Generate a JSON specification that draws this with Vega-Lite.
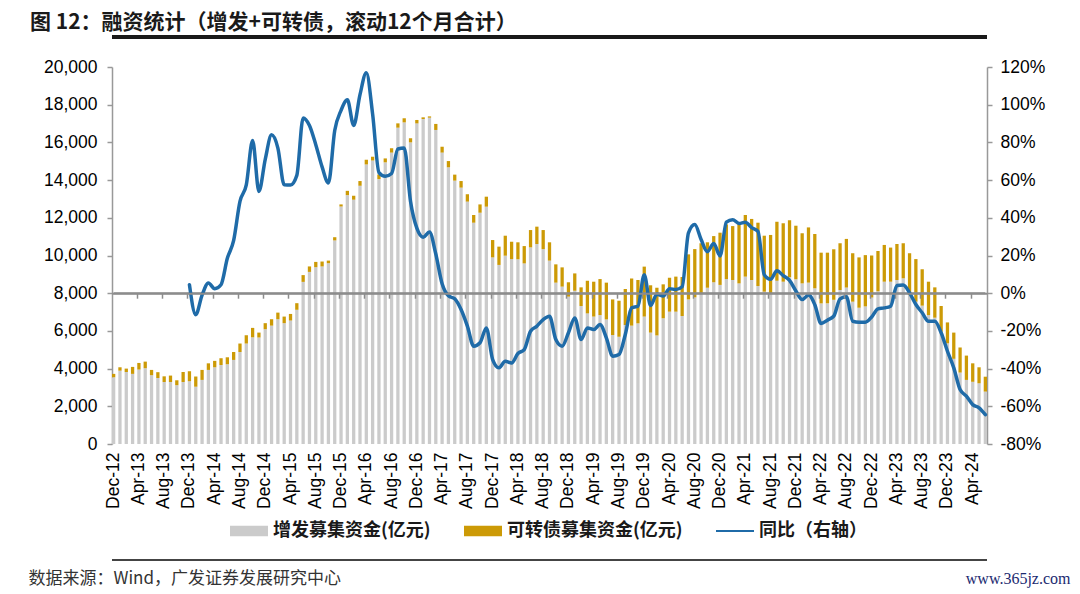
{
  "$schema": "https://vega.github.io/schema/vega-lite/v6.json",
  "width": 875,
  "height": 377,
  "autosize": "none",
  "padding": {"left": 112, "top": 67, "right": 93, "bottom": 150},
  "background": "white",
  "title": {
    "text": "图 12：融资统计（增发+可转债，滚动12个月合计）",
    "anchor": "start", "frame": "group", "dx": -82, "offset": 3,
    "font": "Noto Sans CJK SC", "fontSize": 21, "fontWeight": "bold", "color": "#1a1a1a"
  },
  "config": {
    "view": {"stroke": null},
    "axis": {"labelFont": "Liberation Sans", "labelFontSize": 17.5, "labelColor": "#000000", "grid": false}
  },
  "data": {
    "values": [
      {"m": "Dec-12", "g": 3540, "t": 3720, "y": null},
      {"m": "Jan-13", "g": 3890, "t": 4070, "y": null},
      {"m": "Feb-13", "g": 3820, "t": 4000, "y": null},
      {"m": "Mar-13", "g": 3720, "t": 4090, "y": null},
      {"m": "Apr-13", "g": 3950, "t": 4300, "y": null},
      {"m": "May-13", "g": 4020, "t": 4370, "y": null},
      {"m": "Jun-13", "g": 3650, "t": 3930, "y": null},
      {"m": "Jul-13", "g": 3500, "t": 3810, "y": null},
      {"m": "Aug-13", "g": 3290, "t": 3590, "y": null},
      {"m": "Sep-13", "g": 3290, "t": 3630, "y": null},
      {"m": "Oct-13", "g": 3120, "t": 3380, "y": null},
      {"m": "Nov-13", "g": 3290, "t": 3820, "y": null},
      {"m": "Dec-13", "g": 3330, "t": 3860, "y": 4.5},
      {"m": "Jan-14", "g": 3040, "t": 3580, "y": -11.4},
      {"m": "Feb-14", "g": 3400, "t": 3930, "y": -1},
      {"m": "Mar-14", "g": 3930, "t": 4280, "y": 5.4},
      {"m": "Apr-14", "g": 4070, "t": 4410, "y": 2.4},
      {"m": "May-14", "g": 4190, "t": 4550, "y": 4.5},
      {"m": "Jun-14", "g": 4230, "t": 4600, "y": 18.5},
      {"m": "Jul-14", "g": 4460, "t": 4880, "y": 28},
      {"m": "Aug-14", "g": 4880, "t": 5330, "y": 48.7},
      {"m": "Sep-14", "g": 5330, "t": 5770, "y": 57.5},
      {"m": "Oct-14", "g": 5660, "t": 6160, "y": 81},
      {"m": "Nov-14", "g": 5650, "t": 5910, "y": 54},
      {"m": "Dec-14", "g": 6090, "t": 6410, "y": 71},
      {"m": "Jan-15", "g": 6280, "t": 6620, "y": 84},
      {"m": "Feb-15", "g": 6620, "t": 6970, "y": 77},
      {"m": "Mar-15", "g": 6410, "t": 6760, "y": 57.5},
      {"m": "Apr-15", "g": 6550, "t": 6900, "y": 57.4},
      {"m": "May-15", "g": 7120, "t": 7470, "y": 62.5},
      {"m": "Jun-15", "g": 8600, "t": 8960, "y": 93},
      {"m": "Jul-15", "g": 9130, "t": 9420, "y": 89},
      {"m": "Aug-15", "g": 9380, "t": 9660, "y": 78.8},
      {"m": "Sep-15", "g": 9420, "t": 9680, "y": 67},
      {"m": "Oct-15", "g": 9590, "t": 9730, "y": 58.5},
      {"m": "Nov-15", "g": 10800, "t": 10970, "y": 86.3},
      {"m": "Dec-15", "g": 12600, "t": 12710, "y": 97},
      {"m": "Jan-16", "g": 13200, "t": 13430, "y": 102.6},
      {"m": "Feb-16", "g": 12960, "t": 13170, "y": 89},
      {"m": "Mar-16", "g": 13700, "t": 13950, "y": 105.3},
      {"m": "Apr-16", "g": 14830, "t": 15080, "y": 117},
      {"m": "May-16", "g": 15040, "t": 15240, "y": 95},
      {"m": "Jun-16", "g": 14050, "t": 14300, "y": 64},
      {"m": "Jul-16", "g": 14940, "t": 15150, "y": 62},
      {"m": "Aug-16", "g": 15460, "t": 15690, "y": 63.5},
      {"m": "Sep-16", "g": 16780, "t": 17010, "y": 76.5},
      {"m": "Oct-16", "g": 17060, "t": 17280, "y": 77},
      {"m": "Nov-16", "g": 16000, "t": 16220, "y": 48.7},
      {"m": "Dec-16", "g": 17010, "t": 17190, "y": 34.5},
      {"m": "Jan-17", "g": 17240, "t": 17330, "y": 29.7},
      {"m": "Feb-17", "g": 17310, "t": 17380, "y": 32.5},
      {"m": "Mar-17", "g": 16660, "t": 16980, "y": 20.8},
      {"m": "Apr-17", "g": 15460, "t": 15770, "y": 5},
      {"m": "May-17", "g": 14680, "t": 15010, "y": -1.4},
      {"m": "Jun-17", "g": 13970, "t": 14290, "y": -3},
      {"m": "Jul-17", "g": 13600, "t": 13950, "y": -8.7},
      {"m": "Aug-17", "g": 12860, "t": 13250, "y": -17.5},
      {"m": "Sep-17", "g": 11740, "t": 12150, "y": -28.1},
      {"m": "Oct-17", "g": 12270, "t": 12710, "y": -26.3},
      {"m": "Nov-17", "g": 12590, "t": 13120, "y": -18.4},
      {"m": "Dec-17", "g": 9900, "t": 10820, "y": -35.2},
      {"m": "Jan-18", "g": 9500, "t": 10470, "y": -39.6},
      {"m": "Feb-18", "g": 9990, "t": 11050, "y": -36.1},
      {"m": "Mar-18", "g": 9810, "t": 10730, "y": -37},
      {"m": "Apr-18", "g": 9800, "t": 10700, "y": -32},
      {"m": "May-18", "g": 9580, "t": 10500, "y": -29.9},
      {"m": "Jun-18", "g": 10430, "t": 11350, "y": -20.2},
      {"m": "Jul-18", "g": 10610, "t": 11530, "y": -17.5},
      {"m": "Aug-18", "g": 10340, "t": 11350, "y": -14},
      {"m": "Sep-18", "g": 9730, "t": 10700, "y": -12.2},
      {"m": "Oct-18", "g": 8560, "t": 9530, "y": -24.6},
      {"m": "Nov-18", "g": 8350, "t": 9370, "y": -28.1},
      {"m": "Dec-18", "g": 7820, "t": 8580, "y": -21},
      {"m": "Jan-19", "g": 8130, "t": 9050, "y": -13.1},
      {"m": "Feb-19", "g": 7320, "t": 8310, "y": -24.6},
      {"m": "Mar-19", "g": 6930, "t": 8660, "y": -18.4},
      {"m": "Apr-19", "g": 6760, "t": 8610, "y": -19.3},
      {"m": "May-19", "g": 6840, "t": 8750, "y": -16.6},
      {"m": "Jun-19", "g": 6610, "t": 8560, "y": -23.7},
      {"m": "Jul-19", "g": 5780, "t": 7670, "y": -33.4},
      {"m": "Aug-19", "g": 5690, "t": 7600, "y": -32.5},
      {"m": "Sep-19", "g": 6310, "t": 8220, "y": -21.9},
      {"m": "Oct-19", "g": 6280, "t": 8780, "y": -7.8},
      {"m": "Nov-19", "g": 6400, "t": 8700, "y": -6.9},
      {"m": "Dec-19", "g": 6760, "t": 9410, "y": 9.8},
      {"m": "Jan-20", "g": 5910, "t": 8420, "y": -6.5},
      {"m": "Feb-20", "g": 5760, "t": 8290, "y": -0.5},
      {"m": "Mar-20", "g": 6670, "t": 8470, "y": -1.5},
      {"m": "Apr-20", "g": 7020, "t": 8820, "y": 2.4},
      {"m": "May-20", "g": 7020, "t": 8880, "y": 1.9},
      {"m": "Jun-20", "g": 6790, "t": 8860, "y": 3.4},
      {"m": "Jul-20", "g": 7670, "t": 10060, "y": 32},
      {"m": "Aug-20", "g": 7780, "t": 10340, "y": 36.4},
      {"m": "Sep-20", "g": 7990, "t": 10650, "y": 28.5},
      {"m": "Oct-20", "g": 8290, "t": 10700, "y": 22},
      {"m": "Nov-20", "g": 8580, "t": 11030, "y": 26.4},
      {"m": "Dec-20", "g": 8440, "t": 11210, "y": 19.8},
      {"m": "Jan-21", "g": 8750, "t": 11650, "y": 37.7},
      {"m": "Feb-21", "g": 8700, "t": 11560, "y": 39},
      {"m": "Mar-21", "g": 8520, "t": 11710, "y": 37},
      {"m": "Apr-21", "g": 8880, "t": 12150, "y": 37.6},
      {"m": "May-21", "g": 8700, "t": 11940, "y": 34.8},
      {"m": "Jun-21", "g": 8380, "t": 11740, "y": 32.8},
      {"m": "Jul-21", "g": 8080, "t": 11050, "y": 9.8},
      {"m": "Aug-21", "g": 7990, "t": 11090, "y": 7.4},
      {"m": "Sep-21", "g": 8660, "t": 11790, "y": 11.9},
      {"m": "Oct-21", "g": 8610, "t": 11710, "y": 9.3},
      {"m": "Nov-21", "g": 8850, "t": 11870, "y": 6.8},
      {"m": "Dec-21", "g": 8740, "t": 11580, "y": 1.2},
      {"m": "Jan-22", "g": 8520, "t": 11180, "y": -3.4},
      {"m": "Feb-22", "g": 8560, "t": 11490, "y": -1},
      {"m": "Mar-22", "g": 8260, "t": 11140, "y": -6.1},
      {"m": "Apr-22", "g": 7460, "t": 10150, "y": -16.1},
      {"m": "May-22", "g": 7460, "t": 10150, "y": -14.3},
      {"m": "Jun-22", "g": 7650, "t": 10330, "y": -12.2},
      {"m": "Jul-22", "g": 8170, "t": 10650, "y": -3},
      {"m": "Aug-22", "g": 8300, "t": 10880, "y": -1.9},
      {"m": "Sep-22", "g": 7550, "t": 10120, "y": -14.9},
      {"m": "Oct-22", "g": 7230, "t": 9900, "y": -15.4},
      {"m": "Nov-22", "g": 7300, "t": 10020, "y": -15.4},
      {"m": "Dec-22", "g": 7770, "t": 10000, "y": -12.6},
      {"m": "Jan-23", "g": 8100, "t": 10240, "y": -8.3},
      {"m": "Feb-23", "g": 8610, "t": 10560, "y": -7.8},
      {"m": "Mar-23", "g": 8610, "t": 10420, "y": -6.9},
      {"m": "Apr-23", "g": 8700, "t": 10610, "y": 4.1},
      {"m": "May-23", "g": 8790, "t": 10650, "y": 4.4},
      {"m": "Jun-23", "g": 7900, "t": 10120, "y": 0.2},
      {"m": "Jul-23", "g": 7550, "t": 9810, "y": -6},
      {"m": "Aug-23", "g": 7340, "t": 9270, "y": -10.4},
      {"m": "Sep-23", "g": 6840, "t": 8610, "y": -14.9},
      {"m": "Oct-23", "g": 6700, "t": 8310, "y": -14.9},
      {"m": "Nov-23", "g": 5960, "t": 7320, "y": -21},
      {"m": "Dec-23", "g": 5340, "t": 6450, "y": -30.8},
      {"m": "Jan-24", "g": 4520, "t": 5910, "y": -39.6},
      {"m": "Feb-24", "g": 3790, "t": 5120, "y": -51.1},
      {"m": "Mar-24", "g": 3400, "t": 4690, "y": -54.6},
      {"m": "Apr-24", "g": 3300, "t": 4280, "y": -59.1},
      {"m": "May-24", "g": 3220, "t": 4070, "y": -60.8},
      {"m": "Jun-24", "g": 2780, "t": 3570, "y": -64.4}
    ]
  },
  "layer": [
    {
      "mark": {"type": "bar", "color": "#CBCBCB"},
      "encoding": {
        "x": {
          "field": "m", "type": "ordinal", "sort": null,
          "scale": {"type": "band", "paddingInner": 0.48, "paddingOuter": 0},
          "axis": {
            "orient": "bottom", "title": null, "domain": false, "ticks": false,
            "labelExpr": "indexof(['Dec','Apr','Aug'], slice(datum.label, 0, 3)) >= 0 ? datum.label : ''",
            "labelAngle": -90, "labelAlign": "right", "labelBaseline": "middle", "labelPadding": 8,
            "labelOverlap": false, "labelFlush": false, "labelBound": false
          }
        },
        "y": {
          "field": "g", "type": "quantitative", "stack": null,
          "scale": {"domain": [0, 20000], "nice": false, "zero": true},
          "axis": {
            "orient": "left", "title": null,
            "values": [0, 2000, 4000, 6000, 8000, 10000, 12000, 14000, 16000, 18000, 20000],
            "format": ",d", "domainColor": "#999999", "domainWidth": 1.5,
            "tickColor": "#999999", "tickWidth": 1.5, "tickSize": 5, "labelPadding": 10
          }
        },
        "color": {
          "datum": "增发募集资金(亿元)", "type": "nominal",
          "scale": {"domain": ["增发募集资金(亿元)", "可转债募集资金(亿元)", "同比（右轴）"], "range": ["#CBCBCB", "#CC9A06", "#1F6BA8"]},
          "legend": {
            "orient": "none", "legendX": 118, "legendY": 445, "direction": "horizontal",
            "title": null, "gridAlign": "none", "columnPadding": 33, "labelOffset": 5,
            "symbolSize": 1444, "labelFont": "Noto Sans CJK SC", "labelFontSize": 18,
            "labelFontWeight": "bold", "labelColor": "#1a1a1a", "labelLimit": 400,
            "symbolType": "M-1,-0.27L1,-0.27L1,0.27L-1,0.27Z",
            "encode": {
              "symbols": {
                "update": {
                  "shape": {"signal": "datum.value === '同比（右轴）' ? 'M-1,-0.05L1,-0.05L1,0.05L-1,0.05Z' : 'M-1,-0.27L1,-0.27L1,0.27L-1,0.27Z'"},
                  "fill": {"signal": "scale('color', datum.value)"},
                  "stroke": {"value": "transparent"},
                  "strokeWidth": {"value": 0},
                  "opacity": {"value": 1},
                  "fillOpacity": {"value": 1}
                }
              }
            }
          }
        }
      }
    },
    {
      "mark": {"type": "bar"},
      "encoding": {
        "x": {
          "field": "m", "type": "ordinal", "sort": null,
          "scale": {"type": "band", "paddingInner": 0.48, "paddingOuter": 0},
          "axis": {
            "orient": "bottom", "offset": -150.8, "title": null, "labels": false,
            "values": ["Dec-12","Apr-13","Aug-13","Dec-13","Apr-14","Aug-14","Dec-14","Apr-15","Aug-15","Dec-15","Apr-16","Aug-16","Dec-16","Apr-17","Aug-17","Dec-17","Apr-18","Aug-18","Dec-18","Apr-19","Aug-19","Dec-19","Apr-20","Aug-20","Dec-20","Apr-21","Aug-21","Dec-21","Apr-22","Aug-22","Dec-22","Apr-23","Aug-23","Dec-23","Apr-24"],
            "bandPosition": 0, "domain": true, "domainColor": "#8c8c8c", "domainWidth": 2,
            "ticks": true, "tickColor": "#8c8c8c", "tickWidth": 1.5, "tickSize": 5, "zindex": 1
          }
        },
        "y": {
          "field": "g", "type": "quantitative", "stack": null,
          "scale": {"domain": [0, 20000], "nice": false, "zero": true},
          "axis": null
        },
        "y2": {"field": "t"},
        "color": {"datum": "可转债募集资金(亿元)", "type": "nominal"}
      }
    },
    {
      "mark": {"type": "line", "color": "#8c8c8c", "strokeWidth": 2},
      "encoding": {
        "x": {
          "field": "m", "type": "ordinal", "sort": null,
          "scale": {"type": "band", "paddingInner": 0.48, "paddingOuter": 0},
          "axis": null
        },
        "y": {
          "datum": 0, "type": "quantitative",
          "scale": {"domain": [-80, 120], "nice": false, "zero": false},
          "axis": null
        }
      }
    },
    {
      "mark": {"type": "rule", "color": "#1a1a1a", "strokeWidth": 2.5},
      "encoding": {
        "y": {
          "datum": 135.9, "type": "quantitative",
          "scale": {"domain": [-80, 120], "nice": false, "zero": false},
          "axis": null
        }
      }
    },
    {
      "mark": {"type": "rule", "color": "#444444", "strokeWidth": 1.5},
      "encoding": {
        "y": {
          "datum": -141.5, "type": "quantitative",
          "scale": {"domain": [-80, 120], "nice": false, "zero": false},
          "axis": null
        }
      }
    },
    {
      "mark": {"type": "line", "strokeWidth": 3.5, "interpolate": "monotone", "strokeJoin": "round", "strokeCap": "round"},
      "encoding": {
        "x": {
          "field": "m", "type": "ordinal", "sort": null,
          "scale": {"type": "band", "paddingInner": 0.48, "paddingOuter": 0},
          "axis": {
            "orient": "bottom", "offset": 116,
            "labels": false, "ticks": false, "domain": false,
            "title": "数据来源：Wind，广发证券发展研究中心",
            "titleX": -84, "titleY": 18, "titleAlign": "left", "titleAnchor": "start",
            "titleBaseline": "middle", "titleFont": "Noto Sans CJK SC", "titleFontSize": 17,
            "titleFontWeight": "normal", "titleColor": "#333333"
          }
        },
        "y": {
          "field": "y", "type": "quantitative",
          "scale": {"domain": [-80, 120], "nice": false, "zero": false},
          "axis": {
            "orient": "right",
            "values": [-80, -60, -40, -20, 0, 20, 40, 60, 80, 100, 120],
            "labelExpr": "datum.value + '%'",
            "domainColor": "#999999", "domainWidth": 1.5,
            "tickColor": "#999999", "tickWidth": 1.5, "tickSize": 5, "labelPadding": 8,
            "title": "www.365jz.com", "titleAngle": 0, "titleX": 83, "titleY": 511,
            "titleAlign": "right", "titleBaseline": "middle", "titleFont": "Liberation Serif",
            "titleFontSize": 16, "titleFontWeight": "normal", "titleColor": "#1b2a70"
          }
        },
        "color": {"datum": "同比（右轴）", "type": "nominal"}
      }
    }
  ],
  "resolve": {
    "scale": {"x": "independent", "y": "independent"},
    "axis": {"x": "independent", "y": "independent"}
  }
}
